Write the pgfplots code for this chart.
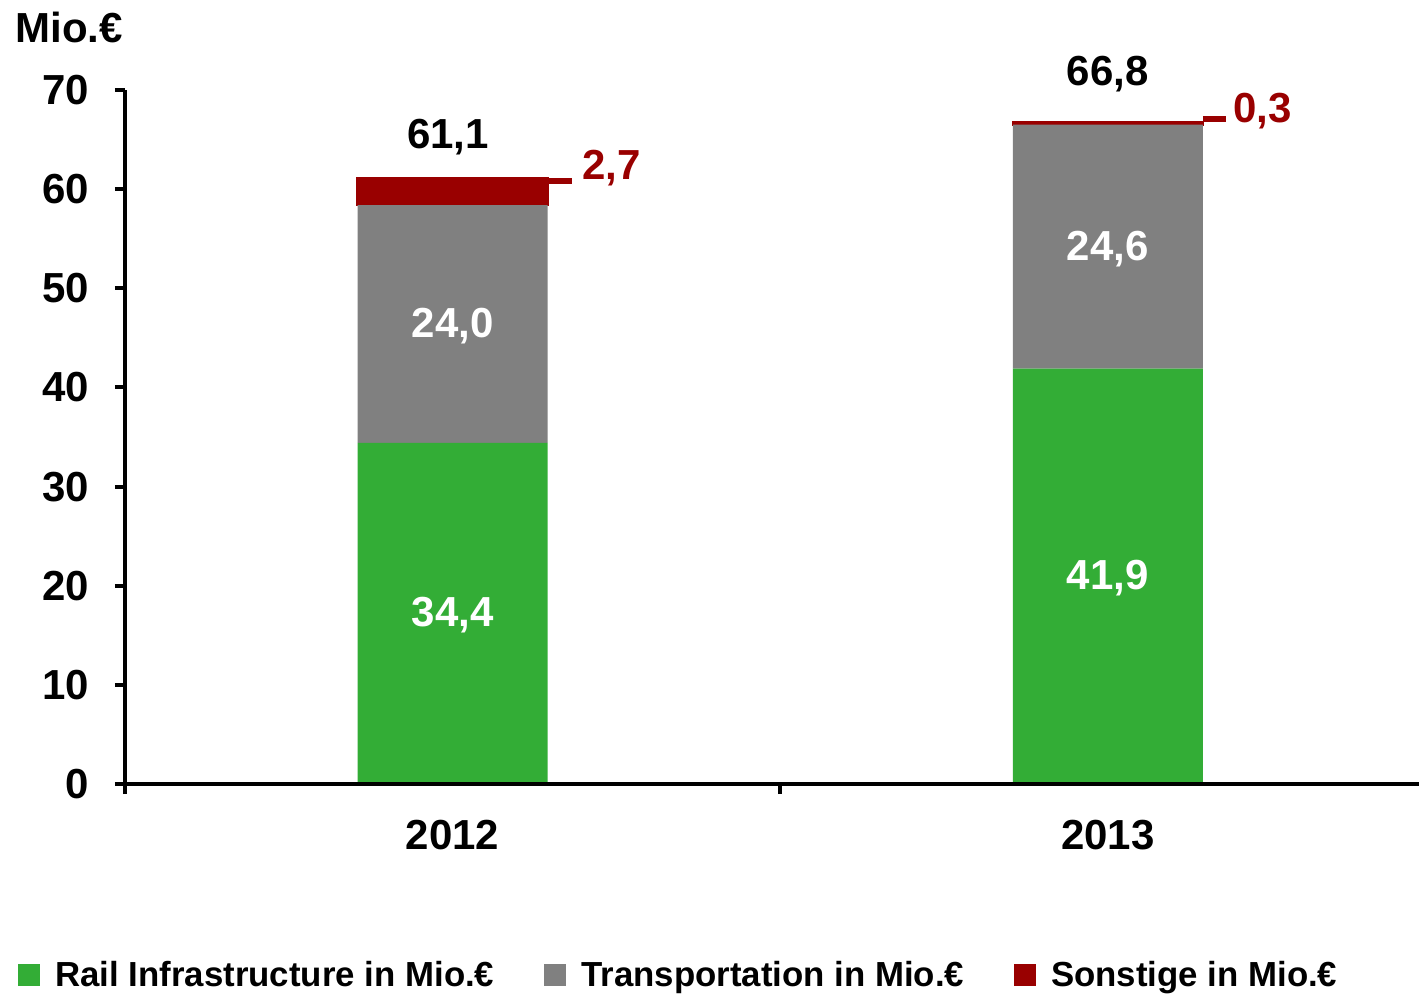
\documentclass[border=0pt]{standalone}
\usepackage{fontspec}
\setmainfont{Liberation Sans}
\usepackage{pgfplots}
\pgfplotsset{compat=1.18}
\definecolor{cgreen}{RGB}{51,173,54}
\definecolor{cgray}{RGB}{128,128,128}
\definecolor{cred}{RGB}{153,0,0}
\newcommand{\bigf}{\fontsize{21}{25}\selectfont\bfseries}
\begin{document}
\begin{tikzpicture}
\useasboundingbox (-62.5pt,-104.5pt) rectangle (647pt,392pt);
\clip (-62.5pt,-104.5pt) rectangle (647pt,392pt);
\begin{axis}[
  at={(0,0)}, anchor=south west,
  scale only axis, width=647pt, height=347pt,
  xmin=-0.5, xmax=1.475, ymin=0, ymax=70,
  axis lines=left, axis line style={line width=2pt,-},
  axis on top, clip=false,
  ybar stacked, bar width=95pt,
  ytick={0,10,...,70},
  xtick={-0.5,0.5}, xticklabels={,},
  extra x ticks={0,1}, extra x tick labels={2012,2013},
  extra x tick style={major tick length=0pt, xticklabel style={yshift=-14.5pt}},
  major tick length=5pt, tick align=outside,
  tick style={line width=2pt, black},
  ticklabel style={font=\bigf},
  yticklabel style={xshift=-9.5pt},
  /pgf/number format/assume math mode=true,
  legend style={at={(-0.0827,-0.2752)}, anchor=west, draw=none, fill=none,
    inner sep=0pt, legend columns=3,
    font=\fontsize{17.4}{20}\selectfont\bfseries,
    /tikz/every odd column/.append style={column sep=5.5pt},
    /tikz/every even column/.append style={column sep=23pt}},
  legend image code/.code={\fill[#1,draw=none] (0pt,-5.5pt) rectangle (11pt,5.5pt);},
]
\addplot[fill=cgreen, draw=none] coordinates {(0,34.4) (1,41.9)};
\addplot[fill=cgray, draw=none] coordinates {(0,24.0) (1,24.6)};
\addplot[fill=cred, draw=cred, line width=1.2pt] coordinates {(0,2.7) (1,0.3)};
\legend{Rail Infrastructure in Mio.€, Transportation in Mio.€, Sonstige in Mio.€}

\coordinate (g1) at (axis cs:0,17.0);
\coordinate (h1) at (axis cs:0,46.2);
\coordinate (g2) at (axis cs:1,20.75);
\coordinate (h2) at (axis cs:1,54.0);
\coordinate (t1) at (axis cs:-0.007,65.3);
\coordinate (t2) at (axis cs:1,71.6);
\coordinate (a1) at (axis cs:0.145,60.8);
\coordinate (b1) at (axis cs:0.182,60.8);
\coordinate (a2) at (axis cs:1.145,67.1);
\coordinate (b2) at (axis cs:1.180,67.1);
\coordinate (r1) at (axis cs:0.197,62.1);
\coordinate (r2) at (axis cs:1.191,67.9);
\end{axis}
\node[white, font=\bigf] at (g1) {34,4};
\node[white, font=\bigf] at (h1) {24,0};
\node[white, font=\bigf] at (g2) {41,9};
\node[white, font=\bigf] at (h2) {24,6};
\node[font=\bigf] at (t1) {61,1};
\node[font=\bigf] at (t2) {66,8};
\draw[cred, line width=3pt] (a1) -- (b1);
\draw[cred, line width=3pt] (a2) -- (b2);
\node[cred, font=\bigf, anchor=west, inner sep=0pt] at (r1) {2,7};
\node[cred, font=\bigf, anchor=west, inner sep=0pt] at (r2) {0,3};
\node[anchor=west, inner sep=0pt, font=\bigf] at (-55pt,378.5pt) {Mio.€};
\end{tikzpicture}
\end{document}
